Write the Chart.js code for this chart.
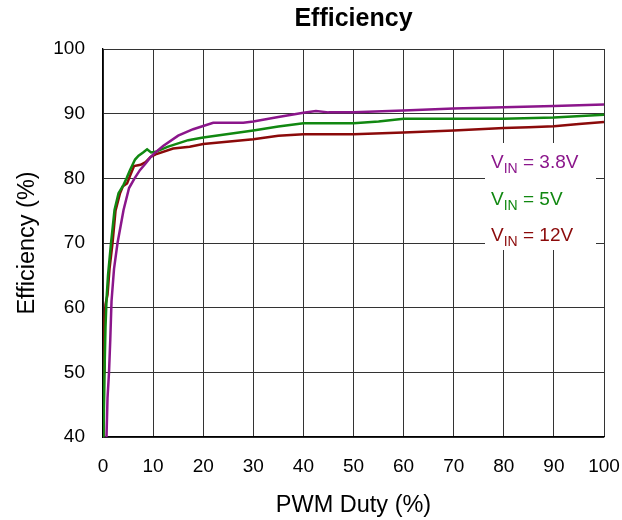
<!DOCTYPE html>
<html>
<head>
<meta charset="utf-8">
<title>Efficiency</title>
<script src="https://cdn.jsdelivr.net/npm/chart.js@4.4.1/dist/chart.umd.min.js"></script>
<style>
  html, body { margin: 0; padding: 0; background: #ffffff; }
  #wrap { width: 622px; height: 520px; position: relative; }
</style>
</head>
<body>
<div id="wrap"><canvas id="eff"></canvas></div>
<script>
// x ticks / y ticks
var xTicks = [0, 10, 20, 30, 40, 50, 60, 70, 80, 90, 100];
var yTicks = [40, 50, 60, 70, 80, 90, 100];

// VIN = 3.8V
var dutyV38 = [0.7, 0.9, 1.2, 1.45, 1.7, 2.2, 2.9, 4.1, 5.2, 6.3, 7.4, 8.5, 9.4, 10.3, 12, 15, 18, 20, 22, 28, 30, 35, 40, 42.5, 45, 50, 60, 70, 80, 90, 100];
var effV38 = [40, 46, 50, 55, 61, 66, 70, 75.1, 78.5, 80, 81.3, 82.3, 83.2, 83.9, 85.0, 86.6, 87.6, 88.1, 88.6, 88.6, 88.8, 89.5, 90.15, 90.4, 90.2, 90.2, 90.5, 90.8, 91.0, 91.2, 91.4];

// VIN = 5V
var dutyV5 = [0.1, 0.3, 0.5, 0.7, 1.0, 1.6, 2.3, 3.1, 4.1, 4.7, 5.4, 6.4, 7.1, 8.0, 8.8, 9.6, 10.5, 13, 17, 20, 30, 35, 40, 50, 55, 60, 70, 80, 90, 100];
var effV5 = [40, 50, 57, 61.2, 65, 70, 75.1, 77.7, 79, 80, 81.3, 82.9, 83.5, 84, 84.5, 84.0, 84.1, 84.9, 85.9, 86.3, 87.4, 88.0, 88.5, 88.5, 88.8, 89.2, 89.2, 89.2, 89.4, 89.85];

// VIN = 12V
var dutyV12 = [0.1, 0.2, 0.3, 0.5, 0.9, 1.3, 1.9, 2.5, 3.4, 4.0, 4.8, 5.4, 6.2, 7.5, 8.5, 9.5, 10.5, 14, 17.3, 20, 30, 35, 40, 50, 60, 70, 80, 85, 90, 95, 100];
var effV12 = [40, 50, 58, 60.5, 62, 66, 70, 75, 77.7, 78.8, 79.2, 80.4, 81.9, 82.1, 82.5, 83.3, 83.7, 84.6, 84.9, 85.3, 86.05, 86.6, 86.8, 86.8, 87.1, 87.4, 87.8, 87.9, 88.05, 88.4, 88.7];

var seriesNames = ["3.8V", "5V", "12V"];
var seriesColors = ["#8b168b", "#118811", "#8b0a0a"];

function pts(xs, ys) {
	return xs.map(function (x, i) { return { x: x, y: ys[i] }; });
}

var FONT = "'Liberation Sans', Arial, Helvetica, sans-serif";

/* white legend panel with V_IN labels, drawn over the grid */
var vinLegend = {
	id: "vinLegend",
	beforeDatasetsDraw: function (chart) {
		var ctx = chart.ctx;
		var a = chart.chartArea;
		var left = a.right - 119, top = a.top + 94;
		ctx.save();
		ctx.fillStyle = "#ffffff";
		ctx.fillRect(left, top, 111, 107);
		var baselines = [168, 205, 241];
		seriesNames.forEach(function (name, i) {
			var x = left + 6;
			var y = baselines[i];
			ctx.fillStyle = seriesColors[i];
			ctx.textBaseline = "alphabetic";
			ctx.font = "19px " + FONT;
			ctx.fillText("V", x, y);
			x += ctx.measureText("V").width;
			ctx.font = "14px " + FONT;
			ctx.fillText("IN", x, y + 5);
			x += ctx.measureText("IN").width;
			ctx.font = "19px " + FONT;
			ctx.fillText(" = " + name, x, y);
		});
		ctx.restore();
	},
};

var datasets = [
	{ label: "VIN = 3.8V", data: pts(dutyV38, effV38) },
	{ label: "VIN = 5V", data: pts(dutyV5, effV5) },
	{ label: "VIN = 12V", data: pts(dutyV12, effV12) },
].map(function (ds, i) {
	ds.borderColor = seriesColors[i];
	ds.backgroundColor = seriesColors[i];
	ds.borderWidth = 2.5;
	ds.pointRadius = 0;
	ds.tension = 0;
	ds.fill = false;
	return ds;
});

new Chart(document.getElementById("eff"), {
	type: "line",
	data: { datasets: datasets },
	options: {
		responsive: true,
		maintainAspectRatio: false,
		animation: false,
		layout: { padding: { left: 0, right: 18, top: 0, bottom: 0 } },
		plugins: {
			legend: { display: false },
			tooltip: { enabled: false },
			title: {
				display: true,
				fullSize: false,
				text: "Efficiency",
				color: "#000",
				font: { family: FONT, size: 25, weight: "bold" },
				padding: { top: 4, bottom: 15 },
			},
		},
		scales: {
			x: {
				type: "linear",
				min: 0,
				max: 100,
				afterBuildTicks: function (s) { s.ticks = xTicks.map(function (v) { return { value: v }; }); },
				afterFit: function (s) { s.height = 83; s.paddingRight = 0; s.paddingLeft = 0; },
				grid: { color: "#333", lineWidth: 1, drawTicks: false },
				border: { color: "#000", width: 1.3 },
				ticks: { color: "#000", padding: 18, maxRotation: 0, font: { family: FONT, size: 19 } },
				title: {
					display: true,
					text: "PWM Duty (%)",
					color: "#000",
					font: { family: FONT, size: 23.5 },
					padding: { bottom: 0 },
				},
			},
			y: {
				type: "linear",
				min: 40,
				max: 100,
				afterBuildTicks: function (s) { s.ticks = yTicks.map(function (v) { return { value: v }; }); },
				afterFit: function (s) { s.width = 103; },
				grid: { color: "#333", lineWidth: 1, drawTicks: false },
				border: { color: "#000", width: 1.3 },
				ticks: { color: "#000", padding: 18, font: { family: FONT, size: 19 } },
				title: {
					display: true,
					text: "Efficiency (%)",
					color: "#000",
					font: { family: FONT, size: 23.5 },
					padding: { top: 13 },
				},
			},
		},
	},
	plugins: [vinLegend],
});
</script>
</body>
</html>
